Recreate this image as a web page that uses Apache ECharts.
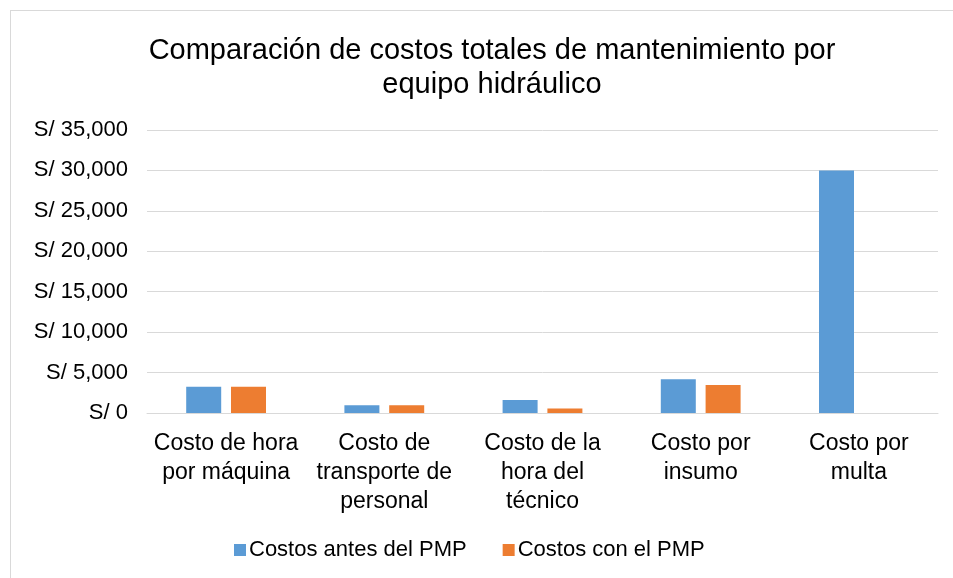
<!DOCTYPE html>
<html>
<head>
<meta charset="utf-8">
<script src="https://cdn.jsdelivr.net/npm/echarts@6/dist/echarts.min.js"></script>
<style>
  html, body { margin: 0; padding: 0; background: #fff; }
  #chart { width: 953px; height: 578px; }
  #frame { position: absolute; left: 10px; top: 10px; width: 960px; height: 600px; border: 1px solid #d9d9d9; pointer-events: none; }
</style>
</head>
<body>
<div id="chart"></div>
<div id="frame"></div>
<script>
// categorias del eje x
const categories = [
  'Costo de hora\npor máquina',
  'Costo de\ntransporte de\npersonal',
  'Costo de la\nhora del\ntécnico',
  'Costo por\ninsumo',
  'Costo por\nmulta'
]
const seriesNames = ['Costos antes del PMP', 'Costos con el PMP']
// valores
const antesPMP = [3250, 960, 1600, 4170, 30000]
const conPMP = [3250, 960, 550, 3460, 0]

const chart = echarts.init(document.getElementById('chart'), null, { renderer: 'canvas' })
const font = 'Liberation Sans, Arial, sans-serif'

chart.setOption({
  animation: false,
  title: {
    text: 'Comparación de costos totales de mantenimiento por\nequipo hidráulico',
    left: 487,
    textAlign: 'center',
    top: 29,
    textStyle: { fontFamily: font, fontSize: 29, fontWeight: 'normal', color: '#000', lineHeight: 34 }
  },
  legend: {
    top: 534,
    left: 229,
    itemWidth: 12,
    itemHeight: 12,
    itemGap: 36,
    icon: 'rect',
    textStyle: { fontFamily: font, fontSize: 22, color: '#000', padding: [0, 0, 0, -2] },
    data: seriesNames
  },
  grid: { left: 147, right: 15, top: 130, bottom: 165 },
  xAxis: {
    type: 'category',
    data: categories,
    axisLine: { lineStyle: { color: '#d9d9d9', width: 1 } },
    axisTick: { show: false },
    axisLabel: { fontFamily: font, fontSize: 23, color: '#000', lineHeight: 29, margin: 16, interval: 0 }
  },
  yAxis: {
    type: 'value',
    min: 0,
    max: 35000,
    interval: 5000,
    axisLine: { show: false },
    axisTick: { show: false },
    splitLine: { lineStyle: { color: '#d9d9d9', width: 1 } },
    axisLabel: {
      fontFamily: font, fontSize: 22, color: '#000', margin: 19,
      formatter: v => 'S/ ' + v.toLocaleString('en-US')
    }
  },
  series: [
    {
      name: seriesNames[0],
      type: 'bar',
      data: antesPMP,
      barWidth: 35,
      barGap: '28%',
      itemStyle: { color: '#5b9bd5' }
    },
    {
      name: seriesNames[1],
      type: 'bar',
      data: conPMP,
      barWidth: 35,
      itemStyle: { color: '#ed7d31' }
    }
  ]
})
</script>
</body>
</html>
